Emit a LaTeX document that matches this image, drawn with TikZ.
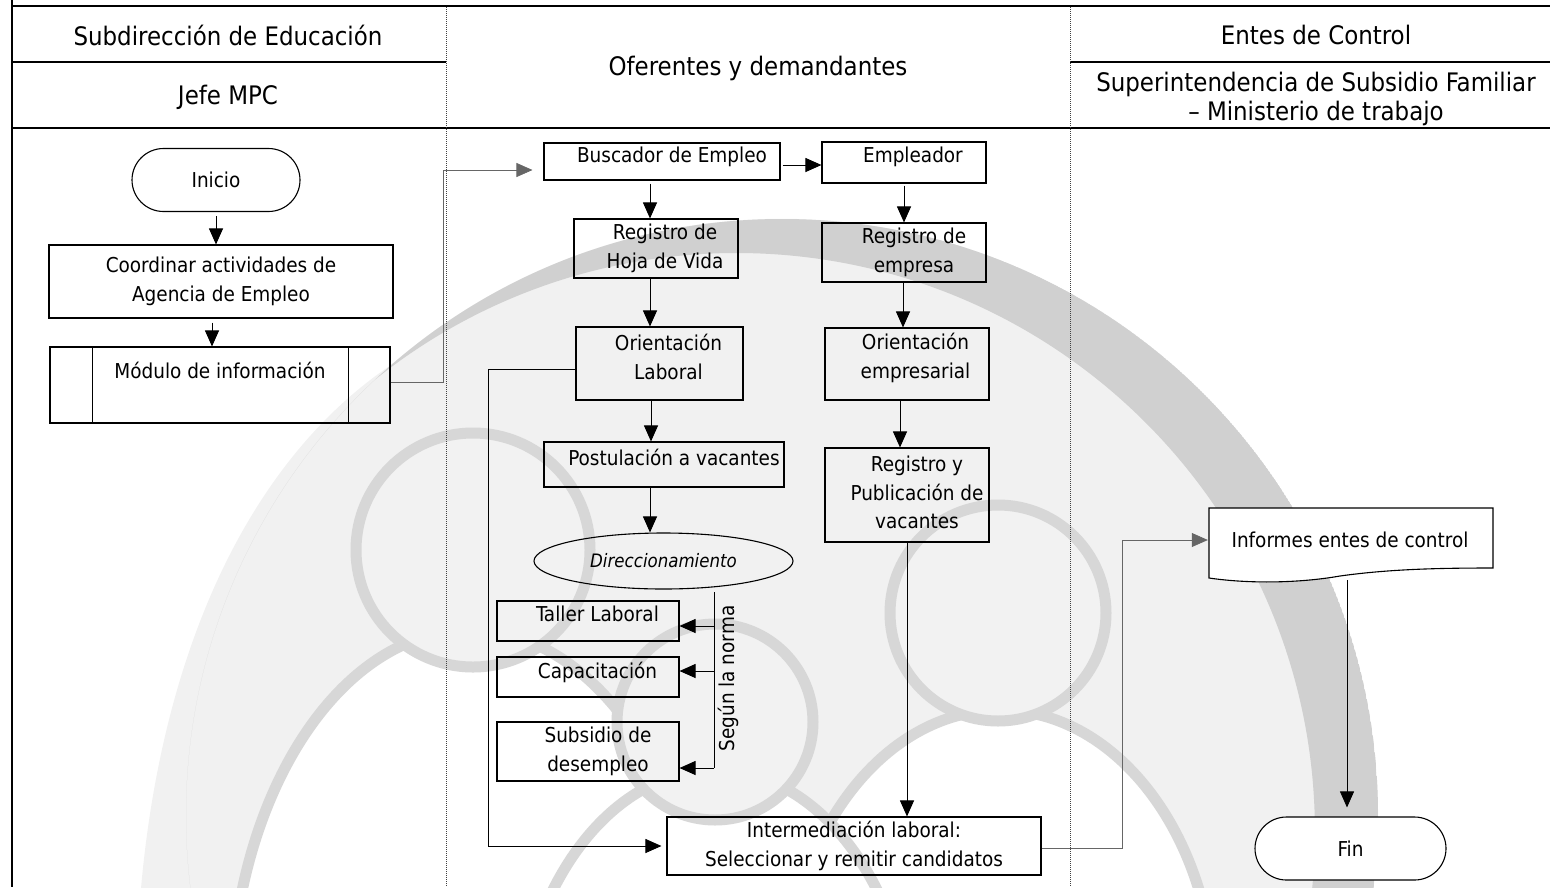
\documentclass[tikz,border=0pt]{standalone}
\usepackage{fontspec}
\setmainfont{DejaVu Sans Condensed}
\usetikzlibrary{arrows.meta,shapes.geometric,shapes.misc}
\definecolor{wmlight}{gray}{0.945}
\definecolor{wmband}{gray}{0.815}
\definecolor{wmring}{gray}{0.845}
\definecolor{wmhead}{gray}{0.95}
\begin{document}
\begin{tikzpicture}[x=1pt,y=-1pt,
  txt/.style={font=\fontsize{20.5}{28.5}\selectfont, align=center, inner sep=0pt},
  htxt/.style={font=\fontsize{25.5}{29}\selectfont, align=center, inner sep=0pt},
  procbox/.style={draw=black, line width=1.1pt, rectangle, inner sep=0pt, txt},
  termbox/.style={draw=black, line width=1.1pt, rounded rectangle, inner sep=0pt, fill=white, txt},
  arr/.style={line width=1pt, -{Triangle[length=16pt,width=14pt]}},
  conn/.style={line width=0.7pt, draw=black!60, -{Triangle[length=16pt,width=14pt]}},
  tableline/.style={line width=2.5pt, draw=black},
  sepline/.style={line width=0.8pt, draw=black!75, dash pattern=on 1pt off 1pt},
  wmr/.style={draw=wmring, line width=11pt}
]
\useasboundingbox (0,0) rectangle (1550,887);

% ---------- watermark ----------
\begin{scope}
\clip (0,0) rectangle (1550,887);
\fill[wmlight] (140,900) .. controls (160,650) and (250,460) .. (391,365)
   arc[start angle=131, end angle=-12, radius=596pt] -- (1365,950) -- (140,950) -- cycle;
\draw[wmr, fill=white] (470,1010) ellipse[x radius=240pt, y radius=380pt];
\draw[wmr, fill=white] (1000,1000) ellipse[x radius=215pt, y radius=290pt];
\draw[wmr, fill=white] (715,1060) ellipse[x radius=200pt, y radius=290pt];
\draw[wmr, fill=wmhead] (473,550) circle[radius=117pt];
\draw[wmr, fill=wmhead] (998,613) circle[radius=108pt];
\draw[wmr, fill=wmhead] (715,722) circle[radius=98pt];
\begin{scope}
\clip (782,815) circle[radius=596pt];
\fill[wmband, even odd rule] (782,815) circle[radius=596pt] (736.3,831.6) circle[radius=578.6pt];
\end{scope}
\end{scope}

% ---------- table ----------
\draw[tableline] (12,0) -- (12,887);
\draw[tableline] (11,6) -- (1550,6);
\draw[tableline] (11,62) -- (446,62) (1070,62) -- (1550,62);
\draw[tableline] (11,128) -- (1550,128);
\draw[sepline] (446.5,7) -- (446.5,887);
\draw[sepline] (1070,7) -- (1070,887);

\node[htxt] (h1) at (228,35) {Subdirección de Educación};
\node[htxt] (h2) at (228,97) {Jefe MPC};
\node[htxt] (h3) at (758,68) {Oferentes y demandantes};
\node[htxt] (h4) at (1316,35) {Entes de Control};
\node[htxt] (h5) at (1316,98.5) {Superintendencia de Subsidio Familiar\\– Ministerio de trabajo};

% ---------- nodes ----------
\node[termbox, minimum width=168pt, minimum height=63pt] (ini) at (216,180) {Inicio};
\node[procbox, minimum width=344pt, minimum height=73pt] (coord) at (221,281.5) {Coordinar actividades de\\Agencia de Empleo};
\node[procbox, minimum width=340pt, minimum height=76pt,
  label={[txt,yshift=15pt]center:Módulo de información}] (mod) at (220,385) {};
\draw[line width=1.1pt] ([xshift=43pt]mod.north west) -- ([xshift=43pt]mod.south west);
\draw[line width=1.1pt] ([xshift=-42pt]mod.north east) -- ([xshift=-42pt]mod.south east);

\node[procbox, minimum width=236pt, minimum height=37pt,
  label={[txt,xshift=10pt,yshift=4.5pt]center:Buscador de Empleo}] (busc) at (662,161.5) {};
\node[procbox, minimum width=164pt, minimum height=41pt,
  label={[txt,xshift=9pt,yshift=5.5pt]center:Empleador}] (empl) at (904,162.5) {};
\node[procbox, minimum width=164pt, minimum height=59pt,
  label={[txt,xshift=9pt]center:{Registro de\\Hoja de Vida}}] (rhv) at (656,248.5) {};
\node[procbox, minimum width=164pt, minimum height=59pt,
  label={[txt,xshift=10pt]center:{Registro de\\empresa}}] (remp) at (904,252.5) {};
\node[procbox, minimum width=167pt, minimum height=73pt,
  label={[txt,xshift=9pt,yshift=6.5pt]center:{Orientación\\Laboral}}] (olab) at (659.5,363.5) {};
\node[procbox, minimum width=164pt, minimum height=72pt,
  label={[txt,xshift=8.5pt,yshift=6pt]center:{Orientación\\empresarial}}] (oemp) at (907,364) {};
\node[procbox, minimum width=240pt, minimum height=45pt,
  label={[txt,xshift=10pt,yshift=7.5pt]center:Postulación a vacantes}] (post) at (664,464.5) {};
\node[procbox, minimum width=164pt, minimum height=94pt,
  label={[txt,xshift=10pt,yshift=2.5pt]center:{Registro y\\Publicación de\\vacantes}}] (rpub) at (907,495) {};
\node[draw=black, line width=1.1pt, ellipse, inner sep=0pt, minimum width=259pt, minimum height=56pt,
  font=\fontsize{18.5}{22}\selectfont\itshape] (dir) at (663.5,561) {Direccionamiento};
\node[procbox, minimum width=182pt, minimum height=40pt,
  label={[txt,xshift=9.5pt,yshift=7pt]center:Taller Laboral}] (tall) at (588,621) {};
\node[procbox, minimum width=182pt, minimum height=40pt,
  label={[txt,xshift=9.5pt,yshift=5pt]center:Capacitación}] (capa) at (588,677) {};
\node[procbox, minimum width=182pt, minimum height=59pt,
  label={[txt,xshift=10pt]center:{Subsidio de\\desempleo}}] (subs) at (588,751.5) {};
\node[txt, rotate=90] (norma) at (728,678.5) {Según la norma};
\node[procbox, minimum width=374pt, minimum height=58pt] (inter) at (854,846) {Intermediación laboral:\\Seleccionar y remitir candidatos};

\filldraw[fill=white, draw=black, line width=1.1pt] (1209,508) -- (1493,508) -- (1493,568)
  .. controls (1440,568) and (1390,569) .. (1340,576)
  .. controls (1300,583) and (1250,584) .. (1209,578) -- cycle;
\node[inner sep=0pt, minimum width=284pt, minimum height=70pt,
  label={[txt,xshift=-1pt,yshift=3pt]center:Informes entes de control}] (inf) at (1351,543) {};
\node[termbox, minimum width=191pt, minimum height=63pt] (fin) at (1350.5,848.5) {Fin};

% ---------- coordinates ----------
\coordinate (m1) at (443,170);
\coordinate (nt) at (714,592);
\coordinate (nb) at (714,768);
\coordinate (b1) at (714,626);
\coordinate (b2) at (714,671);
\coordinate (c1) at (488,846);
\coordinate (c2) at (1122,540);

% ---------- connectors ----------
\draw[arr, shorten <=4pt] (ini.south) -- (ini.south |- coord.north);
\draw[arr, shorten <=4pt] ([xshift=-9pt]coord.south) -- ([xshift=-9pt]coord.south |- mod.north);
\draw[conn, shorten >=11pt] ([yshift=3pt]mod.east) -| (m1) -- (m1 -| busc.west);
\draw[arr, shorten <=2pt] ([yshift=-3.5pt]busc.east) -- ([yshift=-3.5pt]busc.east -| empl.west);
\draw[arr, shorten <=3pt] ([xshift=-12pt]busc.south) -- ([xshift=-12pt]busc.south |- rhv.north);
\draw[arr, shorten <=2pt] (empl.south) -- (empl.south |- remp.north);
\draw[arr] ([xshift=-6pt]rhv.south) -- ([xshift=-6pt]rhv.south |- olab.north);
\draw[arr] ([xshift=-1pt]remp.south) -- ([xshift=-1pt]remp.south |- oemp.north);
\draw[arr] ([xshift=-8.5pt]olab.south) -- ([xshift=-8.5pt]olab.south |- post.north);
\draw[arr] ([xshift=-7pt]oemp.south) -- ([xshift=-7pt]oemp.south |- rpub.north);
\draw[arr] ([xshift=-14pt]post.south) -- ([xshift=-14pt]post.south |- dir.north);
\draw[line width=1pt] (nt) -- (nb);
\draw[arr] (b1) -- (b1 -| tall.east);
\draw[arr] (b2) -- (b2 -| capa.east);
\draw[arr] (nb) -- (nb -| subs.east);
\draw[arr] (rpub.south) -- (rpub.south |- inter.north);
\draw[arr, line width=0.9pt, shorten >=5pt] ([yshift=-5.5pt]olab.west) -| (c1) -- (c1 -| inter.west);
\draw[conn, shorten >=1pt] ([yshift=-2pt]inter.east) -| (c2) -- (c2 -| inf.west);
\draw[arr, line width=0.8pt, shorten <=2pt, shorten >=9pt] ([xshift=-4pt]inf.south) -- ([xshift=-4pt]inf.south |- fin.north);
\end{tikzpicture}
\end{document}
